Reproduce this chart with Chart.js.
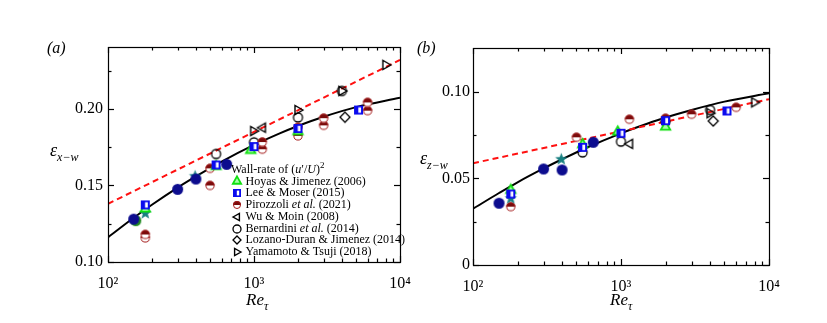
<!DOCTYPE html>
<html>
<head>
<meta charset="utf-8">
<script src="https://cdn.jsdelivr.net/npm/chart.js@4.4.1/dist/chart.umd.min.js"></script>
<style>
body { margin: 0; background: #fff; }
#page { position: relative; width: 827px; height: 323px; overflow: hidden; font-family: "Liberation Serif", "Times New Roman", serif; color: #000; }
#page > canvas { position: absolute; top: 0; }
.lbl { position: absolute; white-space: nowrap; line-height: 1; }
.it { font-style: italic; }
#legend { position: absolute; left: 231px; top: 160px; font-size: 12px; line-height: 11.8px; white-space: nowrap; }
#legend .ttl { height: 15.5px; }
#legend .row { display: flex; align-items: center; height: 11.8px; }
#legend .mk { width: 11px; height: 11px; margin-right: 3.5px; display: flex; align-items: center; justify-content: center; }
</style>
</head>
<body>
<div id="page">
  <canvas id="chartX" width="413" height="323" style="left:0"></canvas>
  <canvas id="chartZ" width="414" height="323" style="left:413px"></canvas>

  <div class="lbl it" style="left:47px; top:40px; font-size:16px;">(a)</div>
  <div class="lbl it" style="left:417px; top:40px; font-size:16px;">(b)</div>

  <div class="lbl it" style="left:50px; top:141px;"><span style="font-size:18px;">ε</span><span style="font-size:12px; position:relative; top:5px;">x−w</span></div>
  <div class="lbl it" style="left:420px; top:149px;"><span style="font-size:18px;">ε</span><span style="font-size:12px; position:relative; top:5px;">z−w</span></div>

  <div class="lbl it" style="left:246px; top:291px;"><span style="font-size:17px;">Re</span><span style="font-size:12px; position:relative; top:5px;">τ</span></div>
  <div class="lbl it" style="left:610px; top:291px;"><span style="font-size:17px;">Re</span><span style="font-size:12px; position:relative; top:5px;">τ</span></div>

  <div id="legend">
    <div class="ttl">Wall-rate of (<i>u</i>′/<i>U</i>)<sup style="font-size:9px">2</sup></div>
    <div class="row"><span class="mk" data-k="tri"></span>Hoyas &amp; Jimenez (2006)</div>
    <div class="row"><span class="mk" data-k="lee"></span>Lee &amp; Moser (2015)</div>
    <div class="row"><span class="mk" data-k="pir"></span>Pirozzoli&nbsp;<i>et al.</i>&nbsp;(2021)</div>
    <div class="row"><span class="mk" data-k="left"></span>Wu &amp; Moin (2008)</div>
    <div class="row"><span class="mk" data-k="ring"></span>Bernardini&nbsp;<i>et al.</i>&nbsp;(2014)</div>
    <div class="row"><span class="mk" data-k="diam"></span>Lozano-Duran &amp; Jimenez (2014)</div>
    <div class="row"><span class="mk" data-k="right"></span>Yamamoto &amp; Tsuji (2018)</div>
  </div>
</div>

<script>
// ---- data: Re_tau and the two dissipation ratios (x-w and z-w) ----
const dnsRe = [150, 300, 400, 650];            // navy dots, no legend entry
const dnsX  = [0.128, 0.1475, 0.1542, 0.1638];
const dnsZ  = [0.0357, 0.0555, 0.0549, 0.0709];

const greenRe = [155];
const greenX  = [0.127];
const greenZ  = [null];

const starRe = [180, 395];
const starX  = [0.1318, 0.156];
const starZ  = [0.0385, 0.0611];

const hoyasRe = [180, 550, 950, 2000];
const hoyasX  = [0.135, 0.1627, 0.1732, 0.1855];
const hoyasZ  = [0.0434, 0.0698, 0.0771, 0.0800];

const leeRe = [180, 550, 1000, 2000, 5200];
const leeX  = [0.1373, 0.1634, 0.1754, 0.1872, 0.1993];
const leeZ  = [0.041, 0.068, 0.0761, 0.0834, 0.089];

const pirRe = [180, 500, 1140, 2000, 3000, 6000];
const pirXa = [0.118, 0.1612, 0.1784, 0.188, 0.194, 0.2043];
const pirXb = [0.1157, 0.150, 0.1737, 0.1824, 0.1893, 0.1989];
const pirZ  = [0.0337, 0.0738, 0.0842, 0.0848, 0.0871, 0.0911];

const wuRe = [1142];
const wuX  = [0.1878];
const wuZ  = [0.070];

const berRe = [550, 1000, 2000, 4000];
const berX  = [0.1706, 0.1782, 0.1945, 0.2118];
const berZ  = [0.0651, 0.0713, 0.0828, 0.0896];

const lozRe = [4200];
const lozX  = [0.1946];
const lozZ  = [0.0832];

const yamRe = [995, 2000, 4000, 8000];
const yamX  = [0.1856, 0.1993, 0.2118, 0.2288];
const yamZ  = [null, null, 0.0877, 0.094];

// fitted curve (black) and power law (red dashed)
const fitRe = [100, 150, 200, 300, 400, 600, 1000, 1500, 2000, 3000, 5000, 10000];
const fitX  = [0.1161, 0.1289, 0.1374, 0.1486, 0.1559, 0.1656, 0.1765, 0.1841, 0.1889, 0.1949, 0.2012, 0.2074];
const fitZ  = [0.0325, 0.0416, 0.0478, 0.0558, 0.0611, 0.0682, 0.0761, 0.0816, 0.0852, 0.0896, 0.0944, 0.0992];
const powRe = [100, 10000];
const powX  = [0.138, 0.232];
const powZ  = [0.0588, 0.0958];

// ticks
const xTicks = [100, 1000, 10000];
const xTickLabels = ['10²', '10³', '10⁴'];
const yTicksX = [0.10, 0.15, 0.20];
const yTickLabelsX = ['0.10', '0.15', '0.20'];
const yMinorX = [0.125, 0.175, 0.225];
const yTicksZ = [0, 0.05, 0.10];
const yTickLabelsZ = ['0', '0.05', '0.10'];
const yMinorZ = [0.025, 0.075];

const xMinor = [];
[100, 1000].forEach(d => { for (let k = 2; k <= 9; k++) xMinor.push(d * k); });

// ---- marker images ----
function marker(kind, r) {
    const s = Math.ceil(r * 2 + 4);
    const c = document.createElement('canvas');
    c.width = s; c.height = s;
    const g = c.getContext('2d');
    const m = s / 2;
    g.lineJoin = 'miter';
    if (kind === 'dot' || kind === 'gdot') {
        g.beginPath(); g.arc(m, m, r, 0, 2 * Math.PI);
        g.fillStyle = kind === 'dot' ? '#0c0c8e' : '#238b23'; g.fill();
    } else if (kind === 'star') {
        g.beginPath();
        for (let i = 0; i < 10; i++) {
            const rr = i % 2 ? r * 0.42 : r;
            const a = -Math.PI / 2 + i * Math.PI / 5;
            g.lineTo(m + rr * Math.cos(a), m + rr * Math.sin(a));
        }
        g.closePath(); g.fillStyle = '#177f80'; g.fill();
    } else if (kind === 'tri') {
        g.beginPath();
        g.moveTo(m, m - r); g.lineTo(m + r * 0.9, m + r * 0.6); g.lineTo(m - r * 0.9, m + r * 0.6);
        g.closePath(); g.fillStyle = '#a8ffa8'; g.fill();
        g.strokeStyle = '#10e010'; g.lineWidth = 1.8; g.stroke();
    } else if (kind === 'lee') {
        g.fillStyle = '#0a0aee'; g.fillRect(m - r, m - r, 2 * r, 2 * r);
        g.fillStyle = '#fff'; g.fillRect(m - r * 0.05, m - r * 0.6, r * 0.6, r * 1.2);
    } else if (kind === 'pir') {
        g.beginPath(); g.arc(m, m, r, 0, 2 * Math.PI); g.fillStyle = '#fff'; g.fill();
        g.beginPath(); g.arc(m, m, r, Math.PI, 2 * Math.PI); g.closePath(); g.fillStyle = '#7a0b0b'; g.fill();
        g.beginPath(); g.arc(m, m, r - 0.5, 0, 2 * Math.PI); g.strokeStyle = '#a51c1c'; g.lineWidth = 1; g.stroke();
    } else if (kind === 'ring') {
        g.beginPath(); g.arc(m, m, r, 0, 2 * Math.PI); g.strokeStyle = '#000'; g.lineWidth = 1.3; g.stroke();
    } else if (kind === 'diam') {
        g.beginPath(); g.moveTo(m, m - r); g.lineTo(m + r, m); g.lineTo(m, m + r); g.lineTo(m - r, m);
        g.closePath(); g.strokeStyle = '#000'; g.lineWidth = 1.3; g.stroke();
    } else if (kind === 'left' || kind === 'right') {
        const d = kind === 'left' ? -1 : 1;
        g.beginPath(); g.moveTo(m + d * r, m); g.lineTo(m - d * r * 0.6, m - r * 0.9); g.lineTo(m - d * r * 0.6, m + r * 0.9);
        g.closePath(); g.strokeStyle = '#000'; g.lineWidth = 1.4; g.stroke();
    }
    return c;
}

const sizes = { dot: 5.5, gdot: 5.5, star: 6.5, tri: 5.2, lee: 4.5, pir: 4.6, ring: 4.5, diam: 5, left: 5, right: 5 };
const mk = {};
Object.keys(sizes).forEach(k => mk[k] = marker(k, sizes[k]));

document.querySelectorAll('#legend .mk').forEach(el => {
    el.appendChild(marker(el.dataset.k, el.dataset.k === 'tri' ? 4.6 : 4));
});

const pts = (xs, ys) => xs.map((v, i) => ({ x: v, y: ys[i] })).filter(p => p.y !== null && p.y !== undefined);

function scatter(xs, ys, kind) {
    return { type: 'scatter', data: pts(xs, ys), pointStyle: mk[kind], pointRadius: sizes[kind], showLine: false };
}

// inward ticks on all four sides plus the box
const frameTicks = {
    id: 'frameTicks',
    afterDraw(chart, args, o) {
        const { ctx, chartArea: a, scales: { x, y } } = chart;
        ctx.save();
        ctx.strokeStyle = '#000';
        ctx.lineWidth = 1.2;
        const line = (x1, y1, x2, y2) => { ctx.beginPath(); ctx.moveTo(x1, y1); ctx.lineTo(x2, y2); ctx.stroke(); };
        const xt = (v, len) => { const p = Math.round(x.getPixelForValue(v)) + 0.5; line(p, a.bottom, p, a.bottom - len); line(p, a.top, p, a.top + len); };
        const yt = (v, len) => { const p = Math.round(y.getPixelForValue(v)) + 0.5; line(a.left, p, a.left + len, p); line(a.right, p, a.right - len, p); };
        o.xMajor.forEach(v => xt(v, 6));
        o.xMinor.forEach(v => xt(v, 3.5));
        o.yMajor.forEach(v => yt(v, 6));
        o.yMinor.forEach(v => yt(v, 3.5));
        ctx.strokeRect(Math.round(a.left) + 0.5, Math.round(a.top) + 0.5, Math.round(a.right - a.left), Math.round(a.bottom - a.top));
        ctx.restore();
    }
};

function build(id, set, yMin, yMax, yTicks, yLabels, yMinor, pad, yPad) {
    const S = set === 'X';
    const datasets = [
        scatter(dnsRe, S ? dnsX : dnsZ, 'dot'),
        scatter(greenRe, S ? greenX : greenZ, 'gdot'),
        scatter(leeRe, S ? leeX : leeZ, 'lee'),
        scatter(hoyasRe, S ? hoyasX : hoyasZ, 'tri'),
        scatter(starRe, S ? starX : starZ, 'star'),
        scatter(pirRe, S ? pirXa : pirZ, 'pir'),
        scatter(pirRe, S ? pirXb : [], 'pir'),
        scatter(wuRe, S ? wuX : wuZ, 'left'),
        scatter(berRe, S ? berX : berZ, 'ring'),
        scatter(lozRe, S ? lozX : lozZ, 'diam'),
        scatter(yamRe, S ? yamX : yamZ, 'right'),
        { type: 'line', data: pts(powRe, S ? powX : powZ), borderColor: '#ff1010', borderWidth: 2, borderDash: [6, 4], pointRadius: 0, fill: false },
        { type: 'line', data: pts(fitRe, S ? fitX : fitZ), borderColor: '#000', borderWidth: 2, pointRadius: 0, fill: false, cubicInterpolationMode: 'monotone' }
    ];
    const tickFont = { family: '"Liberation Serif", serif', size: 16 };
    return new Chart(document.getElementById(id), {
        type: 'scatter',
        data: { datasets },
        options: {
            responsive: false,
            animation: false,
            layout: { padding: pad },
            plugins: {
                legend: { display: false },
                tooltip: { enabled: false },
                frameTicks: { xMajor: xTicks, xMinor: xMinor, yMajor: yTicks, yMinor: yMinor }
            },
            scales: {
                x: {
                    type: 'logarithmic', min: 100, max: 10000,
                    grid: { display: false, drawTicks: false }, border: { display: false },
                    afterBuildTicks: s => { s.ticks = xTicks.map(v => ({ value: v })); },
                    afterFit: s => { s.height = 40; s.paddingLeft = 0; s.paddingRight = 0; },
                    ticks: { autoSkip: false, maxRotation: 0, color: '#000', font: tickFont, padding: 12,
                             callback: v => xTickLabels[xTicks.indexOf(v)] }
                },
                y: {
                    type: 'linear', min: yMin, max: yMax,
                    grid: { display: false, drawTicks: false }, border: { display: false },
                    afterBuildTicks: s => { s.ticks = yTicks.map(v => ({ value: v })); },
                    afterFit: s => { s.width = 50; s.paddingTop = 0; s.paddingBottom = 0; },
                    ticks: { color: '#000', font: tickFont, padding: yPad,
                             callback: v => yLabels[yTicks.indexOf(v)] }
                }
            }
        },
        plugins: [frameTicks]
    });
}

build('chartX', 'X', 0.10, 0.2405, yTicksX, yTickLabelsX, yMinorX, { left: 58, right: 13, top: 47, bottom: 21 }, 5);
build('chartZ', 'Z', 0, 0.1254, yTicksZ, yTickLabelsZ, yMinorZ, { left: 10, right: 58, top: 48, bottom: 18 }, 3);
</script>
</body>
</html>
